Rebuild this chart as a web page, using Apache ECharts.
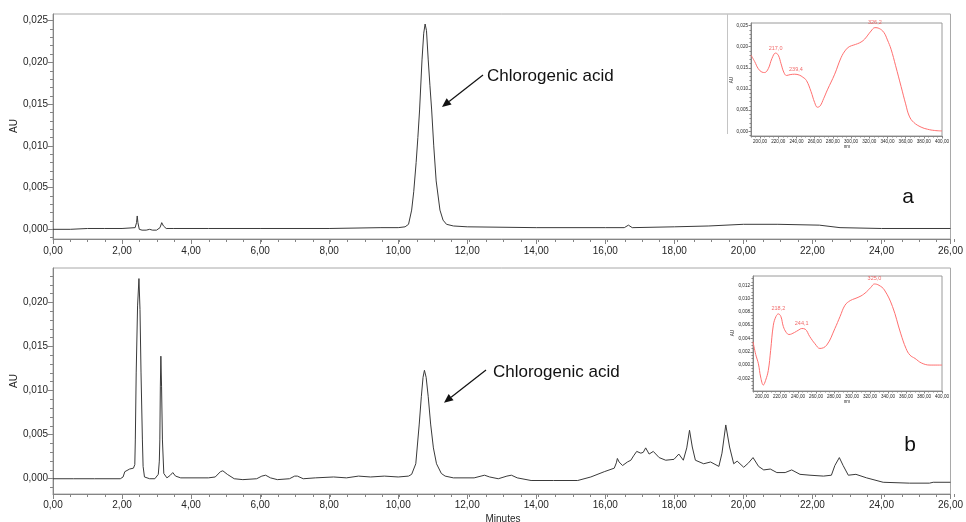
<!DOCTYPE html>
<html><head><meta charset="utf-8">
<script src="https://cdn.jsdelivr.net/npm/echarts@6/dist/echarts.min.js"></script>
<style>html,body{margin:0;padding:0;background:#fff}#c{width:966px;height:522px}</style>
</head><body><div id="c"></div>
<script>
// ---- tick labels ----
const timeTicks = [0,2,4,6,8,10,12,14,16,18,20,22,24,26];
const yTicksA = [0,0.005,0.010,0.015,0.020,0.025];
const yTicksB = [0,0.005,0.010,0.015,0.020];
const nmTicks = [200,220,240,260,280,300,320,340,360,380,400];
const insetTicksA = [0,0.005,0.010,0.015,0.020,0.025];
const insetTicksB = [-0.002,0,0.002,0.004,0.006,0.008,0.010,0.012];

// ---- chromatogram a (time min, AU) ----
const traceA = [
[0.00,0.0000],[0.50,0.0000],[1.00,0.0001],[1.50,0.0001],[2.00,0.0001],[2.38,0.0002],[2.42,0.0008],[2.44,0.0016],[2.46,0.0008],[2.50,0.0000],[2.58,-0.0001],[2.70,-0.0001],[2.80,0.0000],[2.88,-0.0001],[3.00,-0.0001],[3.10,0.0002],[3.15,0.0008],[3.20,0.0004],[3.28,0.0001],[3.50,0.0001],[4.50,0.0001],[6.00,0.0001],[8.00,0.0001],[9.50,0.0002],[10.00,0.0002],[10.20,0.0003],[10.30,0.0006],[10.39,0.0023],[10.45,0.0045],[10.52,0.0080],[10.57,0.0110],[10.62,0.0143],[10.69,0.0203],[10.74,0.0235],[10.78,0.0246],[10.82,0.0238],[10.87,0.0203],[10.92,0.0172],[10.97,0.0143],[11.03,0.0100],[11.10,0.0058],[11.21,0.0023],[11.30,0.0011],[11.40,0.0006],[11.60,0.0004],[12.00,0.0003],[14.00,0.0002],[16.00,0.0002],[16.55,0.0002],[16.67,0.0005],[16.78,0.0002],[18.00,0.0003],[19.00,0.0004],[20.00,0.0006],[21.00,0.0006],[22.20,0.0005],[22.80,0.0002],[24.00,0.0001],[26.00,0.0001]
];

// ---- chromatogram b (time min, AU) ----
const traceB = [
[0.00,0.0000],[0.60,0.0000],[1.20,0.0000],[1.95,0.0000],[2.03,0.0002],[2.08,0.0008],[2.12,0.0009],[2.22,0.0011],[2.33,0.0012],[2.37,0.0016],[2.385,0.0044],[2.41,0.0120],[2.45,0.0196],[2.49,0.0227],[2.52,0.0192],[2.55,0.0120],[2.59,0.0044],[2.61,0.0014],[2.65,0.0002],[2.80,0.0000],[2.95,0.0000],[3.05,0.0005],[3.08,0.0020],[3.095,0.0044],[3.11,0.0105],[3.125,0.0139],[3.145,0.0105],[3.17,0.0044],[3.21,0.0006],[3.30,0.0001],[3.40,0.0004],[3.47,0.0007],[3.55,0.0003],[3.70,0.0001],[4.50,0.0001],[4.70,0.0002],[4.85,0.0008],[4.92,0.0009],[5.05,0.0005],[5.25,0.0000],[5.50,-0.0001],[5.90,0.0000],[6.05,0.0003],[6.16,0.0004],[6.30,0.0001],[6.50,-0.0001],[6.85,0.0000],[7.00,0.0003],[7.08,0.0003],[7.25,0.0000],[7.60,0.0001],[8.13,0.0002],[8.50,0.0001],[8.85,0.0003],[9.20,0.0002],[9.60,0.0003],[10.00,0.0002],[10.30,0.0003],[10.39,0.0005],[10.51,0.0017],[10.61,0.0062],[10.67,0.0093],[10.72,0.0115],[10.76,0.0123],[10.81,0.0115],[10.87,0.0093],[10.94,0.0062],[11.02,0.0035],[11.11,0.0017],[11.25,0.0006],[11.36,0.0003],[11.60,0.0001],[12.20,0.0001],[12.40,0.0003],[12.50,0.0004],[12.65,0.0002],[12.90,0.0000],[13.15,0.0003],[13.28,0.0004],[13.45,0.0001],[13.85,-0.0002],[14.50,-0.0002],[15.20,-0.0002],[15.58,0.0002],[15.97,0.0008],[16.26,0.0012],[16.32,0.0018],[16.35,0.0023],[16.40,0.0019],[16.50,0.0015],[16.64,0.0019],[16.74,0.0021],[16.82,0.0026],[16.91,0.0031],[17.03,0.0029],[17.10,0.0030],[17.17,0.0035],[17.27,0.0028],[17.39,0.0031],[17.56,0.0024],[17.75,0.0021],[17.99,0.0022],[18.13,0.0028],[18.26,0.0021],[18.36,0.0035],[18.44,0.0055],[18.52,0.0036],[18.61,0.0021],[18.85,0.0017],[19.05,0.0019],[19.29,0.0014],[19.38,0.0029],[19.49,0.0061],[19.60,0.0036],[19.72,0.0017],[19.82,0.0020],[20.01,0.0013],[20.15,0.0018],[20.28,0.0024],[20.44,0.0014],[20.59,0.0010],[20.78,0.0011],[20.97,0.0007],[21.21,0.0007],[21.40,0.0010],[21.64,0.0005],[21.93,0.0004],[22.32,0.0003],[22.55,0.0004],[22.65,0.0015],[22.78,0.0024],[22.89,0.0015],[23.04,0.0004],[23.26,0.0005],[23.57,0.0001],[24.05,-0.0004],[24.81,-0.0005],[25.39,-0.0005],[25.50,-0.0004],[26.00,-0.0004]
];

// ---- UV spectra (nm, AU) ----
const spectrumA = [
[190,0.0180],[194,0.0165],[198,0.0148],[202,0.0140],[205,0.0139],[209,0.0148],[213,0.0172],[217,0.0185],[220,0.0180],[223,0.0160],[226,0.0140],[229,0.0132],[233,0.0134],[238,0.0135],[243,0.0133],[247,0.0128],[251,0.0120],[256,0.0094],[260,0.0068],[263,0.0057],[266,0.0060],[270,0.0078],[274,0.0098],[282,0.0135],[289,0.0174],[294,0.0192],[298,0.0200],[303,0.0204],[307,0.0207],[311,0.0211],[315,0.0218],[322,0.0237],[326.2,0.0245],[331,0.0243],[336,0.0234],[340,0.0216],[344,0.0194],[349,0.0155],[355,0.0106],[360,0.0065],[364,0.0036],[369,0.0021],[377,0.0010],[384,0.0005],[392,0.0002],[400,0.0001]
];
const spectrumB = [
[190,0.0035],[193,0.0016],[196,0.0002],[198.5,-0.0018],[201.5,-0.0030],[204,-0.0023],[207,-0.0008],[209.6,0.0022],[212.6,0.0060],[215.5,0.0073],[218.2,0.0077],[221,0.0073],[223.7,0.0058],[227,0.0049],[230,0.0046],[236,0.0049],[241,0.0053],[244.1,0.0055],[248,0.0054],[253,0.0043],[258.9,0.0032],[264.4,0.0025],[271.9,0.0030],[281,0.0055],[286.7,0.0073],[292.2,0.0090],[298,0.0097],[303.3,0.0100],[310,0.0104],[316,0.0110],[321,0.0117],[325,0.0122],[330,0.0120],[336,0.0113],[345,0.0088],[354,0.0048],[360,0.0025],[364.4,0.0015],[370,0.0010],[377.4,0.0003],[386.7,0.0000],[400,0.0000]
];
const peaksA = [[217.0,0.0185,'217,0'],[239.4,0.0135,'239,4'],[326.2,0.0245,'326,2']];
const peaksB = [[218.2,0.0077,'218,2'],[244.1,0.0055,'244,1'],[325.0,0.0122,'325,0']];

// ---- helpers ----
const FONT = "'Liberation Sans', Arial, sans-serif";
const AXIS = '#858585';
const TXT = '#262626';
function steps(a, b, s) { const out = []; const n = Math.round((b - a) / s); for (let i = 0; i <= n; i++) out.push(+(a + i * s).toFixed(6)); return out; }
const comma = d => v => v.toFixed(d).replace('.', ',');

const layouts = [
  {left:53, top:14, width:901, height:225},
  {left:53, top:268, width:901, height:226},
  {left:751, top:23, width:191, height:113},
  {left:753, top:276, width:189, height:115}
];
const grids = layouts.map((g,i) => Object.assign({show:true, borderColor: i<2 ? '#a8a8a8' : '#9a9a9a', borderWidth:1, backgroundColor:'#fff'}, g))
  .concat(layouts.map(g => Object.assign({show:false}, g)));

function majorAxis(gi, min, max, ticks, fmt, fs, margin, tl) {
  return {type:'value', gridIndex:gi, min:min, max:max,
    axisLine:{show:true, onZero:false, lineStyle:{color:AXIS, width:1}},
    axisTick:{show:true, customValues:ticks, length:tl, lineStyle:{color:AXIS}},
    axisLabel:{show:true, customValues:ticks, formatter:fmt, fontSize:fs, margin:margin, color:TXT, fontFamily:FONT, hideOverlap:false},
    splitLine:{show:false}, minorTick:{show:false}};
}
function minorAxis(gi, min, max, ticks, tl) {
  return {type:'value', gridIndex:gi, min:min, max:max,
    axisLine:{show:false, onZero:false},
    axisTick:{show:true, customValues:ticks, length:tl, lineStyle:{color:AXIS}},
    axisLabel:{show:false}, splitLine:{show:false}};
}
const yr = [[-0.00116,0.0258],[-0.00173,0.0239],[-0.0011,0.0256],[-0.0039,0.0134]];
const xr = [[0,26],[0,26],[190,400],[190,400]];

const xAxis = [
  majorAxis(0, 0, 26, timeTicks, comma(2), 10, 7, 5),
  majorAxis(1, 0, 26, timeTicks, comma(2), 10, 6, 5),
  majorAxis(2, 190, 400, nmTicks, comma(2), 4.6, 3, 2.5),
  majorAxis(3, 190, 400, nmTicks, comma(2), 4.6, 3, 2.5),
  minorAxis(4, 0, 26, steps(0,26,0.5), 3),
  minorAxis(5, 0, 26, steps(0,26,0.5), 3),
  minorAxis(6, 190, 400, steps(190,400,5), 1.5),
  minorAxis(7, 190, 400, steps(190,400,5), 1.5)
];
const yAxis = [
  majorAxis(0, yr[0][0], yr[0][1], yTicksA, comma(3), 10, 5, 5),
  majorAxis(1, yr[1][0], yr[1][1], yTicksB, comma(3), 10, 5, 5),
  majorAxis(2, yr[2][0], yr[2][1], insetTicksA, comma(3), 4.6, 3, 2.5),
  majorAxis(3, yr[3][0], yr[3][1], insetTicksB, comma(3), 4.6, 3, 2.5),
  minorAxis(4, yr[0][0], yr[0][1], steps(-0.001,0.025,0.001), 3),
  minorAxis(5, yr[1][0], yr[1][1], steps(-0.001,0.023,0.001), 3),
  minorAxis(6, yr[2][0], yr[2][1], steps(-0.001,0.025,0.001), 1.5),
  minorAxis(7, yr[3][0], yr[3][1], steps(-0.0035,0.013,0.0005), 1.5)
];

function lineSeries(data, xi, yi, color, w, smooth) {
  return {type:'line', xAxisIndex:xi, yAxisIndex:yi, data:data, showSymbol:false, symbol:'none', smooth:smooth,
    lineStyle:{color:color, width:w}, silent:true, animation:false, z:3};
}
function peakSeries(peaks, xi, yi) {
  return {type:'scatter', xAxisIndex:xi, yAxisIndex:yi, symbolSize:0, silent:true, animation:false, z:4,
    data: peaks.map(p => ({value:[p[0], p[1]], label:{formatter:p[2]}})),
    label:{show:true, position:'top', distance:2, fontSize:5.5, color:'#ee4444', fontFamily:FONT}};
}

function arrow(x1, y1, x2, y2) {
  const dx = x2 - x1, dy = y2 - y1, L = Math.hypot(dx, dy), ux = dx / L, uy = dy / L;
  const hl = 9, hw = 4; const bx = x2 - ux * hl, by = y2 - uy * hl;
  return [
    {type:'line', shape:{x1:x1, y1:y1, x2:bx, y2:by}, style:{stroke:'#111', lineWidth:1.2}, z:10},
    {type:'polygon', shape:{points:[[x2,y2],[bx - uy*hw, by + ux*hw],[bx + uy*hw, by - ux*hw]]}, style:{fill:'#111'}, z:10}
  ];
}
function txt(x, y, s, fs, extra) {
  return Object.assign({type:'text', x:x, y:y, z:10, style:{text:s, fontSize:fs, fontFamily:FONT, fill:TXT, align:'center', verticalAlign:'middle'}}, extra || {});
}

const graphic = [
  {type:'line', shape:{x1:727.5, y1:14, x2:727.5, y2:134}, style:{stroke:'#c4c4c4', lineWidth:1}, z:1},
  txt(14, 126, 'AU', 10, {rotation:Math.PI/2}),
  txt(14, 381, 'AU', 10, {rotation:Math.PI/2}),
  txt(503, 519, 'Minutes', 10),
  txt(732, 80, 'AU', 4.6, {rotation:Math.PI/2}),
  txt(733, 333, 'AU', 4.6, {rotation:Math.PI/2}),
  txt(847, 147, 'nm', 4.6),
  txt(847, 402, 'nm', 4.6),
  {type:'text', x:487, y:76, z:10, style:{text:'Chlorogenic acid', fontSize:17, fontFamily:FONT, fill:'#111', align:'left', verticalAlign:'middle'}},
  {type:'text', x:493, y:372, z:10, style:{text:'Chlorogenic acid', fontSize:17, fontFamily:FONT, fill:'#111', align:'left', verticalAlign:'middle'}},
  txt(908, 197, 'a', 21, {style:{text:'a', fontSize:21, fontFamily:FONT, fill:'#111', align:'center', verticalAlign:'middle'}}),
  txt(910, 445, 'b', 21, {style:{text:'b', fontSize:21, fontFamily:FONT, fill:'#111', align:'center', verticalAlign:'middle'}})
].concat(arrow(483, 75, 442, 107)).concat(arrow(486, 370, 444, 402.7));

const chart = echarts.init(document.getElementById('c'), null, {renderer:'canvas'});
chart.setOption({
  animation:false,
  backgroundColor:'#fff',
  grid: grids,
  xAxis: xAxis,
  yAxis: yAxis,
  series: [
    lineSeries(traceA, 0, 0, '#3a3a3a', 1, false),
    lineSeries(traceB, 1, 1, '#3a3a3a', 1, false),
    lineSeries(spectrumA, 2, 2, '#ff7070', 1, 0.4),
    lineSeries(spectrumB, 3, 3, '#ff7070', 1, 0.4),
    peakSeries(peaksA, 2, 2),
    peakSeries(peaksB, 3, 3)
  ],
  graphic: graphic
});
</script>
</body></html>
